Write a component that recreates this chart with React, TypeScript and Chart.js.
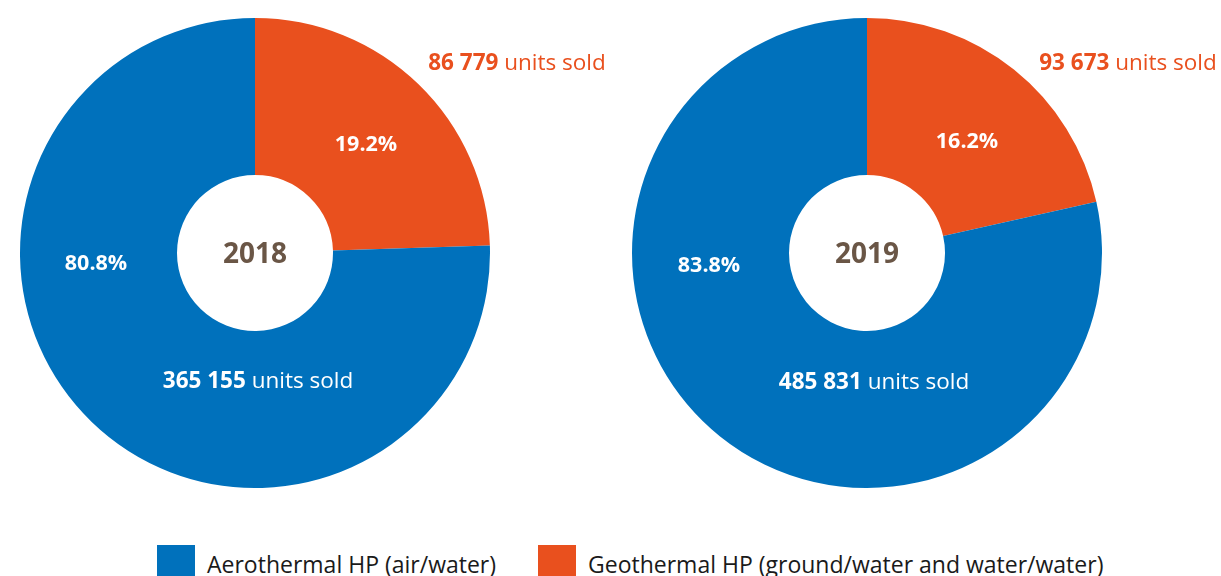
import React, { useEffect, useRef } from 'react';
import { Chart, registerables } from 'chart.js';

Chart.register(...registerables);

// ---- data ----
const categories = ['Aerothermal HP (air/water)', 'Geothermal HP (ground/water and water/water)'];
const years = ['2018', '2019'];
const unitsAero = [365155, 485831];
const unitsGeo = [86779, 93673];
const pctAero = ['80.8%', '83.8%'];
const pctGeo = ['19.2%', '16.2%'];
// slice shares as drawn in the picture (geothermal first, clockwise from 12 o'clock)
const sliceGeo = [24.5, 21.5];
const sliceAero = [75.5, 78.5];

const BLUE = '#0071BC';
const ORANGE = '#E9501E';
const BROWN = '#6A5646';
const FONT = '"Open Sans", "Noto Sans", sans-serif';

const fmt = (n: number) => String(n).replace(/\B(?=(\d{3})+(?!\d))/g, ' ');

// label layout offsets relative to the doughnut centre
const layouts = [
  {
    aeroPct: [-159, 11],
    geoPct: [111, -108],
    aeroUnits: [3, 129],
    geoUnits: [262, -189],
  },
  {
    aeroPct: [-158, 13],
    geoPct: [100, -111],
    aeroUnits: [7, 130],
    geoUnits: [261, -189],
  },
];

type Part = { text: string; bold: boolean };

function drawParts(ctx: CanvasRenderingContext2D, parts: Part[], cx: number, cy: number, size: number, color: string) {
  const fonts = parts.map((p) => `${p.bold ? 'bold ' : ''}${size}px ${FONT}`);
  const widths = parts.map((p, i) => {
    ctx.font = fonts[i];
    return ctx.measureText(p.text).width;
  });
  const total = widths.reduce((a, b) => a + b, 0);
  let x = cx - total / 2;
  ctx.fillStyle = color;
  ctx.textBaseline = 'middle';
  ctx.textAlign = 'left';
  parts.forEach((p, i) => {
    ctx.font = fonts[i];
    ctx.fillText(p.text, x, cy);
    x += widths[i];
  });
}

const labelPlugin = {
  id: 'donutLabels',
  afterDraw(chart: any) {
    const idx = chart.options.plugins.donutLabels.index as number;
    const lay = layouts[idx];
    const arc = chart.getDatasetMeta(0).data[0];
    const cx = arc.x;
    const cy = arc.y;
    const ctx = chart.ctx as CanvasRenderingContext2D;
    ctx.save();
    drawParts(ctx, [{ text: pctAero[idx], bold: true }], cx + lay.aeroPct[0], cy + lay.aeroPct[1], 21.5, '#ffffff');
    drawParts(ctx, [{ text: pctGeo[idx], bold: true }], cx + lay.geoPct[0], cy + lay.geoPct[1], 21.5, '#ffffff');
    drawParts(
      ctx,
      [
        { text: fmt(unitsAero[idx]), bold: true },
        { text: ' units sold', bold: false },
      ],
      cx + lay.aeroUnits[0],
      cy + lay.aeroUnits[1],
      22.5,
      '#ffffff'
    );
    drawParts(
      ctx,
      [
        { text: fmt(unitsGeo[idx]), bold: true },
        { text: ' units sold', bold: false },
      ],
      cx + lay.geoUnits[0],
      cy + lay.geoUnits[1],
      22.5,
      ORANGE
    );
    drawParts(ctx, [{ text: years[idx], bold: true }], cx, cy + 2, 28, BROWN);
    ctx.restore();
  },
};

function Donut({ index, left, width, padLeft }: { index: number; left: number; width: number; padLeft: number }) {
  const ref = useRef<HTMLCanvasElement>(null);
  useEffect(() => {
    if (!ref.current) return;
    const chart = new Chart(ref.current, {
      type: 'doughnut',
      data: {
        labels: [categories[1], categories[0]],
        datasets: [
          {
            data: [sliceGeo[index], sliceAero[index]],
            backgroundColor: [ORANGE, BLUE],
            borderWidth: 0,
          },
        ],
      },
      options: {
        responsive: false,
        animation: false,
        cutout: 78,
        rotation: 0,
        layout: {
          padding: { left: padLeft, right: width - padLeft - 470, top: 18, bottom: 12 },
        },
        plugins: {
          legend: { display: false },
          tooltip: { enabled: false },
          donutLabels: { index },
        } as any,
      },
      plugins: [labelPlugin],
    });
    return () => chart.destroy();
  }, [index, width, padLeft]);
  return (
    <canvas
      ref={ref}
      width={width}
      height={500}
      style={{ position: 'absolute', left, top: 0, width, height: 500 }}
    />
  );
}

export default function App() {
  useEffect(() => {
    document.body.style.margin = '0';
  }, []);
  const legendText: React.CSSProperties = {
    position: 'absolute',
    top: 545,
    fontFamily: FONT,
    fontSize: 23,
    lineHeight: '38px',
    color: '#1a1a1a',
    whiteSpace: 'nowrap',
  };
  return (
    <div style={{ position: 'absolute', left: 0, top: 0, width: 1221, height: 576, overflow: 'hidden', background: '#fff' }}>
      <Donut index={0} left={0} width={610} padLeft={20} />
      <Donut index={1} left={610} width={611} padLeft={22} />
      <div style={{ position: 'absolute', left: 157, top: 545, width: 38, height: 38, background: BLUE }} />
      <div style={{ ...legendText, left: 207 }}>{categories[0]}</div>
      <div style={{ position: 'absolute', left: 538, top: 545, width: 38, height: 38, background: ORANGE }} />
      <div style={{ ...legendText, left: 588 }}>{categories[1]}</div>
    </div>
  );
}
